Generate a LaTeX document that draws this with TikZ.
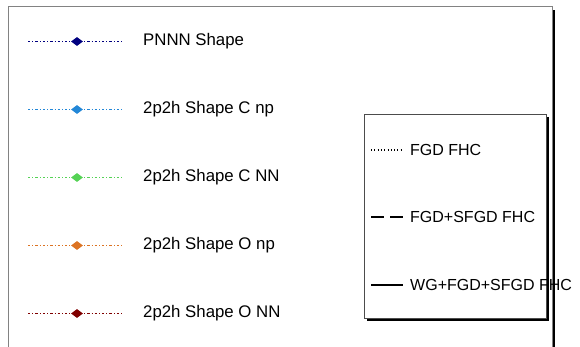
\documentclass[tikz,border=0pt]{standalone}
\usepackage{fontspec}
\setmainfont{Liberation Sans}
\usetikzlibrary{shapes.geometric}
\definecolor{cnavy}{RGB}{0,0,128}
\definecolor{cblue}{RGB}{35,135,215}
\definecolor{cgreen}{RGB}{85,210,85}
\definecolor{corange}{RGB}{220,115,35}
\definecolor{cdred}{RGB}{128,0,0}
\definecolor{cframe}{RGB}{130,130,130}
\tikzset{
  legline/.style={line width=1.2pt, dash pattern=on 2.4pt off 2pt on 1pt off 2pt},
  legmark/.style={diamond, fill, inner sep=0pt, minimum width=12pt, minimum height=9pt},
  legtext/.style={anchor=west, inner sep=0pt, font=\fontsize{16.8}{18}\selectfont},
  legtextb/.style={anchor=west, inner sep=0pt, font=\fontsize{16}{18}\selectfont},
}
\begin{document}
\begin{tikzpicture}[x=1pt,y=-1pt]
\useasboundingbox (0,0) rectangle (580,347);
% outer frame
\fill[black] (552.5,10) rectangle (555,347);
\draw[cframe, line width=1pt] (8,347) -- (8,7) -- (552,7) -- (552,347);
% left legend
\foreach \i/\c/\t in {0/cnavy/PNNN Shape, 1/cblue/2p2h Shape C np, 2/cgreen/2p2h Shape C NN, 3/corange/2p2h Shape O np, 4/cdred/2p2h Shape O NN}{
  \coordinate (a\i) at (28,{41.5+68*\i});
  \coordinate (b\i) at (123,{41.5+68*\i});
  \node[legmark, \c] (m\i) at (77,{41.5+68*\i}) {};
  \draw[legline, \c] (a\i) -- (b\i);
  \node[legtext] (t\i) at (143,{41.5+68*\i}) {\t};
}
% inner legend box
\fill[black] (367,117) rectangle (549,321);
\draw[fill=white, draw=black!70, line width=0.8pt] (364,114) rectangle (546,318);
\coordinate (p1) at (371,150);
\coordinate (q1) at (403,150);
\coordinate (p2) at (371,217);
\coordinate (q2) at (403,217);
\coordinate (p3) at (371,285);
\coordinate (q3) at (403,285);
\draw[line width=1.1pt, dash pattern=on 1pt off 2.3pt] (p1) -- (q1);
\draw[line width=1.1pt, dash pattern=on 13pt off 6pt] (p2) -- (q2);
\draw[line width=1.1pt] (p3) -- (q3);
\node[legtextb] (u1) at (410,150) {FGD FHC};
\node[legtextb] (u2) at (410,217) {FGD+SFGD FHC};
\node[legtextb] (u3) at (410,285) {WG+FGD+SFGD FHC};
\end{tikzpicture}
\end{document}
